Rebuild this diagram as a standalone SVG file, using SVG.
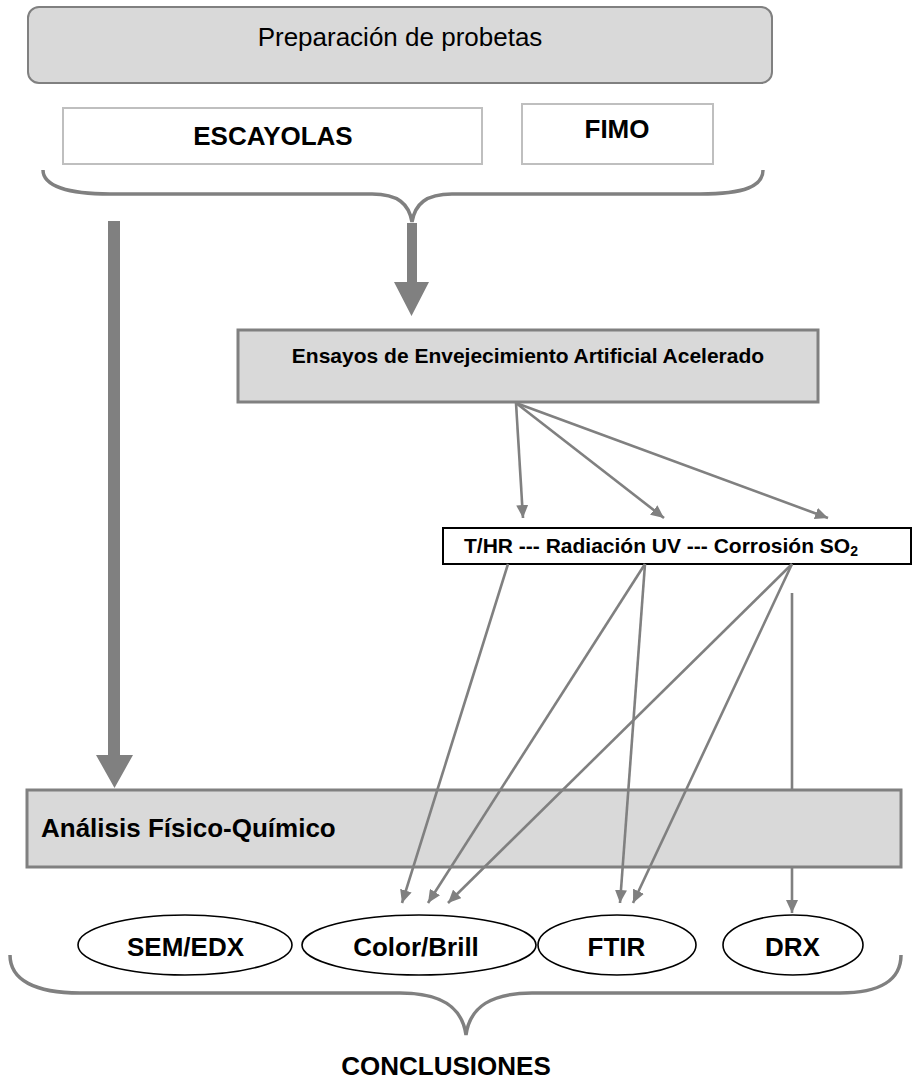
<svg xmlns="http://www.w3.org/2000/svg" width="914" height="1081" viewBox="0 0 914 1081">
<defs>
<style>
.t{font-family:"Liberation Sans",Arial,sans-serif;fill:#000}
.b{font-weight:bold}
.gbox{fill:#d9d9d9;stroke:#808080;stroke-width:3}
.wbox{fill:#fff;stroke:#bfbfbf;stroke-width:2}
.ell{fill:#fff;stroke:#000;stroke-width:1.6}
.ln{stroke:#808080;stroke-width:2.6;fill:none}
.brace{stroke:#808080;stroke-width:3.5;fill:none}
.thick{fill:#808080}
</style>
<marker id="ah" markerUnits="userSpaceOnUse" markerWidth="14" markerHeight="12" refX="13" refY="6" orient="auto">
<path d="M0,0 L13,6 L0,12 z" fill="#808080"/>
</marker>
</defs>
<rect width="914" height="1081" fill="#fff"/>

<g id="preparacion">
<rect x="28" y="7" width="744" height="76" rx="11" fill="#d9d9d9" stroke="#808080" stroke-width="2"/>
<text class="t" x="400" y="46" font-size="26" text-anchor="middle">Preparación de probetas</text>
</g>
<g id="escayolas">
<rect class="wbox" x="63" y="108" width="419" height="56"/>
<text class="t b" x="273" y="145" font-size="26" text-anchor="middle">ESCAYOLAS</text>
</g>
<g id="fimo">
<rect class="wbox" x="522" y="104" width="191" height="60"/>
<text class="t b" x="617" y="138" font-size="26" text-anchor="middle">FIMO</text>
</g>
<g id="brace-top">
<path class="brace" d="M43,170 C43,186 68,194 110,194 L372,194 C398,194 409,204 412,222 C415,204 426,194 452,194 L700,194 C745,194 763,186 763,170"/>
</g>
<g id="ensayos">
<rect class="gbox" x="238" y="330" width="580" height="72"/>
<text class="t b" x="528" y="363" font-size="21" text-anchor="middle">Ensayos de Envejecimiento Artificial Acelerado</text>
</g>
<g id="condiciones">
<rect x="443" y="528" width="468" height="36" fill="#fff" stroke="#000" stroke-width="2"/>
<text class="t b" x="464" y="553" font-size="21">T/HR --- Radiación UV --- Corrosión SO<tspan font-size="14" dy="3">2</tspan></text>
</g>
<g id="analisis">
<rect class="gbox" x="27" y="790" width="874" height="77"/>
<text class="t b" x="41" y="837" font-size="26">Análisis Físico-Químico</text>
</g>
<g id="sem-edx">
<ellipse class="ell" cx="185" cy="945" rx="107" ry="30"/>
<text class="t b" x="185.5" y="956" font-size="26" text-anchor="middle">SEM/EDX</text>
</g>
<g id="color-brill">
<ellipse class="ell" cx="419" cy="945" rx="117" ry="30"/>
<text class="t b" x="416" y="956" font-size="26" text-anchor="middle">Color/Brill</text>
</g>
<g id="ftir">
<ellipse class="ell" cx="617" cy="945" rx="79" ry="30"/>
<text class="t b" x="616.5" y="956" font-size="26" text-anchor="middle">FTIR</text>
</g>
<g id="drx">
<ellipse class="ell" cx="793" cy="945" rx="70" ry="30"/>
<text class="t b" x="792.5" y="956" font-size="26" text-anchor="middle">DRX</text>
</g>
<g id="brace-bottom">
<path class="brace" d="M10,955 C10,980 35,993 80,993 L400,993 C440,993 462,1006 466,1035 C470,1006 492,993 532,993 L840,993 C880,993 901,980 901,955"/>
</g>
<g id="conclusiones">
<text class="t b" x="446" y="1075" font-size="26" text-anchor="middle">CONCLUSIONES</text>
</g>

<g id="connectors">
<polygon class="thick" points="108,221 120,221 120,755 133,755 114.5,788 96,755 108,755"/>
<polygon class="thick" points="407,223 417,223 417,282 429,282 411.5,316 394,282 407,282"/>
<line class="ln" x1="516" y1="403" x2="523" y2="518" marker-end="url(#ah)"/>
<line class="ln" x1="516" y1="403" x2="664" y2="518" marker-end="url(#ah)"/>
<line class="ln" x1="516" y1="403" x2="828" y2="518" marker-end="url(#ah)"/>
<line class="ln" x1="508" y1="564" x2="402" y2="903" marker-end="url(#ah)"/>
<line class="ln" x1="645" y1="564" x2="428" y2="903" marker-end="url(#ah)"/>
<line class="ln" x1="645" y1="564" x2="620" y2="903" marker-end="url(#ah)"/>
<line class="ln" x1="792" y1="564" x2="448" y2="903" marker-end="url(#ah)"/>
<line class="ln" x1="792" y1="564" x2="633" y2="903" marker-end="url(#ah)"/>
<line class="ln" x1="792" y1="593" x2="792" y2="789"/>
<line class="ln" x1="792" y1="868" x2="792" y2="913" marker-end="url(#ah)"/>
</g>
</svg>
